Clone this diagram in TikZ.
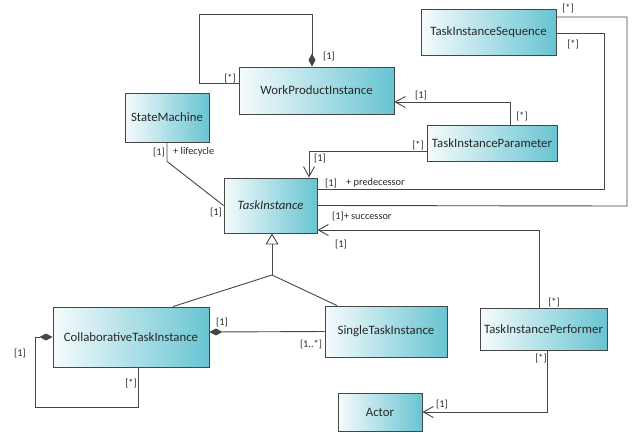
\documentclass[tikz,border=0pt]{standalone}
\usepackage{fontspec}
\setmainfont{Carlito}
\usetikzlibrary{arrows.meta}
\definecolor{boxteal}{RGB}{104,196,210}
\definecolor{linegray}{RGB}{70,70,70}
\definecolor{textgray}{RGB}{40,40,40}

\begin{document}
\begin{tikzpicture}[x=1pt,y=-1pt]
\tikzset{cls/.style={draw=linegray, line width=0.9pt, left color=boxteal!6, right color=boxteal,
  inner sep=0pt, text=textgray, font=\fontsize{12.8}{15}\selectfont}}
\tikzset{conn/.style={draw=linegray, line width=0.9pt}}
\tikzset{nav/.style={conn, -{Straight Barb[length=10pt,width=11pt]}}}
\tikzset{comp/.style={conn, {Diamond[length=13pt,width=7pt]}-}}
\tikzset{gen/.style={conn, -{Triangle[open,length=11pt,width=13pt,fill=white]}}}
\tikzset{mult/.style={inner sep=0pt, text=textgray, font=\fontsize{10.3}{12}\selectfont}}
\useasboundingbox (0,0) rectangle (634,432);
\node[cls, minimum width=155pt, minimum height=47pt] (wpi) at (316.5,90.5) {WorkProductInstance};
\node[cls, minimum width=135pt, minimum height=46pt] (tis) at (488.5,32) {TaskInstanceSequence};
\node[cls, minimum width=84pt, minimum height=49pt] (sm) at (167,117.5) {StateMachine};
\node[cls, minimum width=130pt, minimum height=36pt] (tip) at (492,143) {TaskInstanceParameter};
\node[cls, minimum width=93pt, minimum height=55pt] (ti) at (270.5,205.5) {\itshape TaskInstance};
\node[cls, minimum width=156pt, minimum height=60pt] (cti) at (131,337) {CollaborativeTaskInstance};
\node[cls, minimum width=122pt, minimum height=51pt] (sti) at (386,331.5) {SingleTaskInstance};
\node[cls, minimum width=127pt, minimum height=42pt] (tiperf) at (543.5,329) {TaskInstancePerformer};
\node[cls, minimum width=84pt, minimum height=38pt] (actor) at (380,412) {Actor};
\coordinate (wloop) at (199,14);
\coordinate (seqa) at (627,206);
\coordinate (seqb) at (604,189);
\coordinate (gjoin) at (272,275);
\coordinate (cloop) at (35,407);
\draw[comp] ([xshift=-4.5pt]wpi.north) |- (wloop) |- ([yshift=7.5pt]wpi.west);
\draw[conn] ([yshift=15pt]tis.east) -| (seqa) -- (ti.east);
\draw[conn] ([yshift=-1pt]tis.east) -| (seqb) -- ([yshift=16.5pt]ti.east);
\draw[nav] ([xshift=18pt]tip.north) |- ([yshift=-11.5pt]wpi.east);
\draw[nav] ([yshift=-8pt]tip.west) -| ([xshift=38.5pt]ti.north);
\draw[nav] ([xshift=-4.5pt]tiperf.north) |- ([yshift=-24.5pt]ti.east);
\draw[conn] (sm.south) -- ++(0,19) -- (ti.west);
\draw[gen] (gjoin) -- ([xshift=1.5pt]ti.south);
\draw[conn] ([xshift=42pt]cti.north) -- (gjoin) -- ([xshift=-49pt]sti.north);
\draw[comp] ([yshift=5pt]cti.east) -- (sti.west);
\draw[comp] (cti.west) -| (cloop) -| ([xshift=7pt]cti.south);
\draw[nav] ([xshift=3.5pt]tiperf.south) |- (actor.east);
\node[mult] (m1) at (230,78) {[*]};
\node[mult] (m2) at (329,56) {[1]};
\node[mult] (m3) at (568,8) {[*]};
\node[mult] (m4) at (573,44) {[*]};
\node[mult] (m5) at (421,95) {[1]};
\node[mult] (m6) at (522,116) {[*]};
\node[mult] (m7) at (418,145) {[*]};
\node[mult] (m8) at (320,158) {[1]};
\node[mult] (m9) at (159,152) {[1]};
\node[mult, anchor=west] (m10) at (173,152) {+ lifecycle};
\node[mult] (m11) at (216,212) {[1]};
\node[mult] (m12) at (331,183) {[1]};
\node[mult, anchor=west] (m13) at (346,183) {+ predecessor};
\node[mult, anchor=west] (m14) at (332,216) {[1]+ successor};
\node[mult] (m15) at (341,244) {[1]};
\node[mult] (m16) at (222,322) {[1]};
\node[mult] (m17) at (311,344) {[1..*]};
\node[mult] (m18) at (20,353) {[1]};
\node[mult] (m19) at (131,383) {[*]};
\node[mult] (m20) at (554,302) {[*]};
\node[mult] (m21) at (541,358) {[*]};
\node[mult] (m22) at (442,404) {[1]};
\end{tikzpicture}
\end{document}
